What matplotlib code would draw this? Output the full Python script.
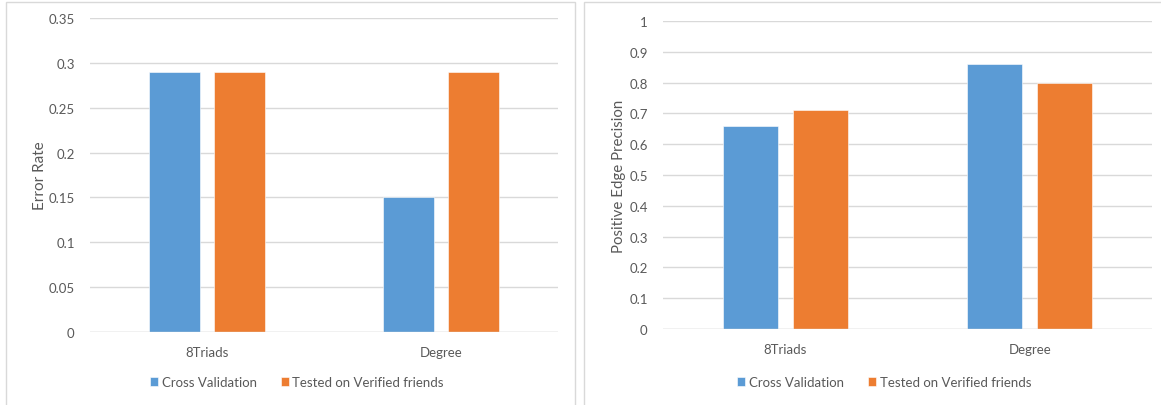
import numpy as np
import matplotlib.pyplot as plt
from matplotlib.patches import Rectangle

plt.rcParams['font.family'] = ['Lato', 'DejaVu Sans']

categories = ["8Triads", "Degree"]
series_names = ["Cross Validation", "Tested on Verified friends"]
error_cv = [0.29, 0.15]
error_tested = [0.29, 0.29]
prec_cv = [0.66, 0.86]
prec_tested = [0.71, 0.80]

blue = "#5b9bd5"
orange = "#ed7d31"
grid = "#d9d9d9"
txt = "#595959"

W, H = 1161, 406
fig = plt.figure(figsize=(W / 100, H / 100), dpi=100)


def px_axes(x0, x1, ytop, ybot):
    return fig.add_axes([x0 / W, (H - ybot) / H, (x1 - x0) / W, (ybot - ytop) / H])


def draw(ax, cv, tested, ymax, step, ylabel, bw, off, fmt, lsize, lpad):
    x = np.arange(len(categories))
    b1 = ax.bar(x - off, cv, bw, color=blue, edgecolor="white", linewidth=0.4, zorder=3)
    b2 = ax.bar(x + off, tested, bw, color=orange, edgecolor="white", linewidth=0.4, zorder=3)
    ax.set_xlim(-0.5, len(categories) - 0.5)
    ax.set_ylim(0, ymax)
    ticks = np.arange(0, ymax + step / 2, step)
    ax.set_yticks(ticks)
    ax.set_yticklabels([fmt(t) for t in ticks])
    ax.set_xticks(x)
    ax.set_xticklabels(categories)
    ax.yaxis.grid(True, color=grid, linewidth=1, zorder=0)
    for s in ax.spines.values():
        s.set_visible(False)
    ax.axhline(0, color=grid, linewidth=1, zorder=4)
    ax.tick_params(length=0, colors=txt, labelsize=9.5)
    ax.tick_params(axis="y", pad=11)
    ax.tick_params(axis="x", pad=10)
    ax.set_ylabel(ylabel, color=txt, fontsize=lsize, labelpad=lpad)
    return b1, b2


def fmt_num(t):
    s = ("%.2f" % t).rstrip("0").rstrip(".")
    return s if s else "0"


# left chart
axl = px_axes(90, 558, 19, 333)
h1, h2 = draw(axl, error_cv, error_tested, 0.35, 0.05, "Error Rate", 0.22, 0.138, fmt_num, 11, 1)
fig.legend([h1, h2], series_names, loc="center", bbox_to_anchor=(297 / W, 1 - 383 / H),
           ncol=2, frameon=False, fontsize=9.5, labelcolor=txt, handlelength=0.6,
           handleheight=0.6, handletextpad=0.3, columnspacing=1.8)

# right chart
axr = px_axes(663, 1152, 22, 330)
h1, h2 = draw(axr, prec_cv, prec_tested, 1.0, 0.1, "Positive Edge Precision", 0.225, 0.143, fmt_num, 10.8, 2)
fig.legend([h1, h2], series_names, loc="center", bbox_to_anchor=(884 / W, 1 - 383 / H),
           ncol=2, frameon=False, fontsize=9.5, labelcolor=txt, handlelength=0.6,
           handleheight=0.6, handletextpad=0.3, columnspacing=1.8)

# chart frames
for x0, x1 in [(6, 575), (584, 1170)]:
    fig.patches.append(Rectangle((x0 / W, -0.05), (x1 - x0) / W, (H - 3) / H + 0.05,
                                 transform=fig.transFigure, fill=False,
                                 edgecolor=grid, linewidth=1))

fig.savefig("out.png", dpi=100)
